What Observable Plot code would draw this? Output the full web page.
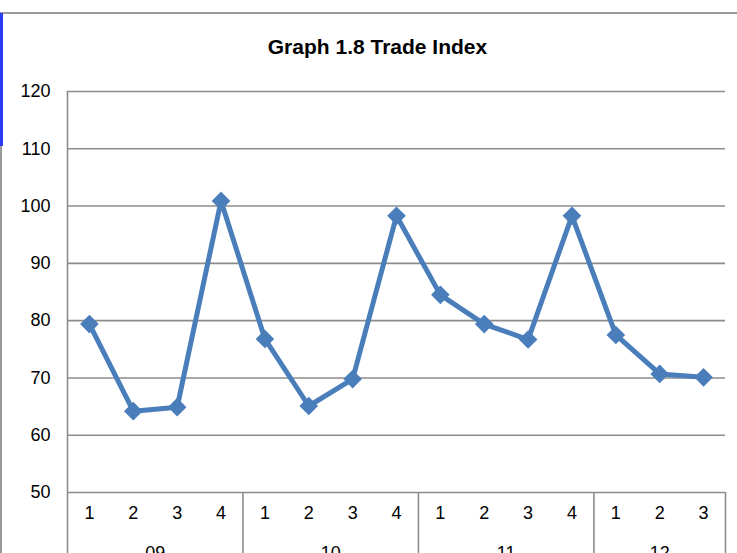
<!DOCTYPE html>
<html>
<head>
<meta charset="utf-8">
<script src="https://cdn.jsdelivr.net/npm/d3@7"></script>
<script src="https://cdn.jsdelivr.net/npm/@observablehq/plot@0.6"></script>
<style>
  html, body { margin: 0; padding: 0; background: #fff; }
  #wrap { position: relative; width: 737px; height: 553px; overflow: hidden; font-family: "Liberation Sans", Arial, sans-serif; }
  #title { position: absolute; left: 0; width: 755px; top: 36px; text-align: center; font-weight: bold; font-size: 21px; line-height: 21px; color: #000; }
  #topline { position: absolute; left: 0; top: 12px; width: 737px; height: 2px; background: #9a9a9a; }
  #leftline { position: absolute; left: 0; top: 12px; width: 2px; height: 541px; background: #9a9a9a; }
  #blueline { position: absolute; left: 0; top: 13px; width: 3px; height: 133px; background: #2b3bff; }
  #chart { position: absolute; left: 0; top: 0; }
</style>
</head>
<body>
<div id="wrap">
  <div id="chart"></div>
  <div id="topline"></div>
  <div id="leftline"></div>
  <div id="blueline"></div>
  <div id="title">Graph 1.8 Trade Index</div>
</div>
<script>
const groups = ["09", "10", "11", "12"];
const yearOf = ["09","09","09","09","10","10","10","10","11","11","11","11","12","12","12"];
const quarters = ["1","2","3","4","1","2","3","4","1","2","3","4","1","2","3"];
const values = [79.4, 64.2, 64.9, 100.9, 76.8, 65.1, 69.8, 98.3, 84.5, 79.4, 76.7, 98.3, 77.5, 70.7, 70.1];
const yTicks = [50, 60, 70, 80, 90, 100, 110, 120];

const data = values.map((v, i) => ({i, v, q: quarters[i], g: yearOf[i]}));
const spans = groups.map(g => {
  const idx = data.filter(d => d.g === g).map(d => d.i);
  const a = d3.min(idx), b = d3.max(idx);
  return {g, a: a - 0.5, b: b + 0.5, c: (a + b) / 2};
});
const bounds = Array.from(new Set(spans.flatMap(s => [s.a, s.b])));
const yMin = d3.min(yTicks), yMax = d3.max(yTicks);
const xDomain = [d3.min(bounds), d3.max(bounds)];
const grid = "#8c8c8c";
const blue = "#4a7ebb";

const chart = Plot.plot({
  width: 737,
  height: 553,
  marginTop: 91,
  marginBottom: 61,
  marginLeft: 67,
  marginRight: 12,
  style: {fontFamily: "'Liberation Sans', Arial, sans-serif", fontSize: "18px", color: "#000", background: "transparent"},
  x: {domain: xDomain, axis: null},
  y: {domain: [yMin, yMax], axis: null},
  marks: [
    Plot.gridY(yTicks, {stroke: grid, strokeOpacity: 1, strokeWidth: 1.6}),
    Plot.ruleX(bounds, {x: d => d, y1: yMin, y2: yMin - 12, stroke: grid, strokeWidth: 1.6}),
    Plot.ruleX([xDomain[0]], {x: d => d, y1: yMax, y2: yMin, stroke: grid, strokeWidth: 1.6}),
    Plot.axisY(yTicks, {tickSize: 0, tickPadding: 17, fontSize: 18, label: null}),
    Plot.line(data, {x: "i", y: "v", stroke: blue, strokeWidth: 5}),
    Plot.dot(data, {x: "i", y: "v", symbol: "diamond2", r: 8.4, fill: blue, stroke: null}),
    Plot.text(data, {x: "i", frameAnchor: "bottom", text: "q", dy: 26, fontSize: 18, fill: "#000"}),
    Plot.text(spans, {x: "c", frameAnchor: "bottom", text: "g", dy: 66, fontSize: 18, fill: "#000"})
  ]
});
document.getElementById("chart").appendChild(chart);
</script>
</body>
</html>
